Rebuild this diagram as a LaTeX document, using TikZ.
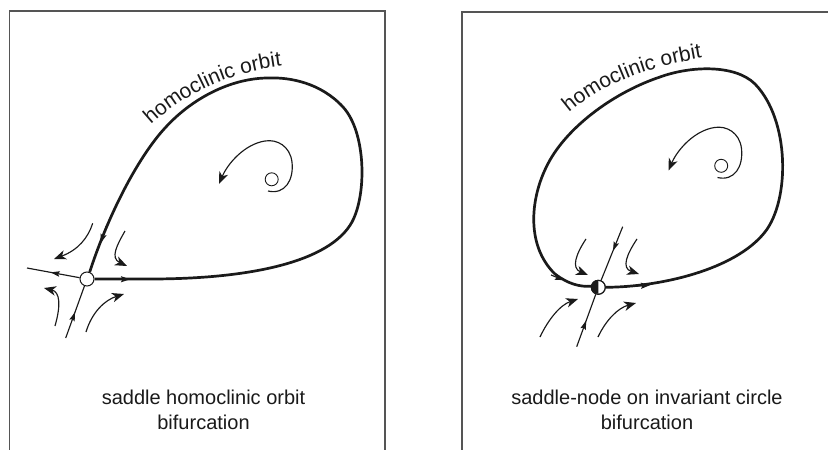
\documentclass[tikz,border=0pt]{standalone}
\usepackage{fontspec}
\setmainfont{Liberation Sans}
\usetikzlibrary{arrows.meta, decorations.markings, decorations.text}
\definecolor{ink}{HTML}{1A1A1A}
\definecolor{boxgray}{HTML}{555555}
\begin{document}
\begin{tikzpicture}[x=1pt, y=-1pt,
  panel/.style={draw=boxgray, line width=1.5pt},
  orbit/.style={draw=ink, line width=2.7pt, line join=round},
  orbtip/.style={draw=ink, line width=1.2pt, -{Stealth[length=9pt,width=6pt,inset=1.5pt]}},
  traj/.style={draw=ink, line width=1.15pt},
  bigtip/.style={-{Stealth[length=12pt,width=9.5pt,inset=3.5pt]}},
  midarrow/.style={postaction={decorate, decoration={markings,
      mark=at position #1 with {\arrow{Stealth[length=9pt,width=5.5pt,inset=1.5pt]}}}}},
  saddle/.style={circle, draw=ink, line width=1pt, fill=white, minimum size=14pt, inner sep=0pt},
  fixpt/.style={circle, draw=ink, line width=0.9pt, minimum size=13pt, inner sep=0pt},
  caption/.style={font=\fontsize{20}{24}\selectfont, inner sep=0pt, anchor=base, text=ink}]
\useasboundingbox (0,0) rectangle (828,450);
\fill[white] (0,0) rectangle (828,450);

% panels
\draw[panel] (9.5,452) -- (9.5,11) -- (385,11) -- (385,452);
\draw[panel] (462,452) -- (462,12) -- (830,12);

% ---------------- left panel ----------------
\node[saddle] (s1) at (87,279) {};
\node[fixpt] (f1) at (271.7,179.3) {};

\draw[orbit] (s1.east) -- (150,279)
  .. controls (250,279) and (330,262) .. (352,222)
  .. controls (367,194) and (366,132) .. (343,107)
  .. controls (321,83) and (290,77) .. (268,78)
  .. controls (235,78) and (195,95) .. (165,128)
  .. controls (140,155) and (110,210) .. (s1.69);
\coordinate (oa1) at (112,279.2);
\coordinate (ob1) at (130,279.3);
\coordinate (oc1) at (106.2,226);
\coordinate (od1) at (100.8,243);
\draw[orbtip] (oa1) -- (ob1);
\draw[orbtip] (oc1) -- (od1);

\coordinate (u1) at (27,268);
\coordinate (b1) at (65.7,338);
\draw[traj, midarrow=0.55] (s1.170) -- (u1);
\draw[traj, midarrow=0.5] (b1) -- (s1.250);

\draw[traj, bigtip] (92.7,223.3) .. controls (88,238) and (78,250) .. (54,259);
\draw[traj, bigtip] (125,231) .. controls (117,245) and (110,258) .. (127,266);
\draw[traj, bigtip] (55,326) .. controls (61,305) and (60,292) .. (44,288);
\draw[traj, bigtip] (86,332) .. controls (92,312) and (105,300) .. (124,294);

\draw[traj, bigtip] (268,191) .. controls (285,195) and (294,180) .. (292,162)
  .. controls (290,146) and (277,139) .. (265,141)
  .. controls (245,144) and (228,163) .. (219,184);

\path[decorate, decoration={text along path,
  text={|\fontsize{21}{21}\selectfont\color{ink}|homoclinic orbit}}]
  (151,125) .. controls (184,95) and (230,68) .. (305,64);

\node[caption] (c1a) at (203.5,404) {saddle homoclinic orbit};
\node[caption] (c1b) at (203.5,429) {bifurcation};

% ---------------- right panel ----------------
\node[saddle] (s2) at (598.3,287.3) {};
\fill[ink] (s2.north) arc[start angle=90, end angle=270, radius=7pt] -- cycle;
\node[circle, draw=ink, line width=1pt, minimum size=14pt, inner sep=0pt] (s2b) at (s2) {};
\node[fixpt] (f2) at (721.2,165.8) {};

\draw[orbit] (s2.east)
  .. controls (660,287) and (735,270) .. (765,232)
  .. controls (790,200) and (790,120) .. (755,84)
  .. controls (735,64) and (690,66) .. (660,77)
  .. controls (615,92) and (570,125) .. (550,160)
  .. controls (530,195) and (525,245) .. (555,274)
  .. controls (568,284) and (580,287) .. (s2.172);
\coordinate (oa2) at (630,286.4);
\coordinate (ob2) at (650,285.2);
\coordinate (oc2) at (551,275);
\coordinate (od2) at (564,280.2);
\draw[orbtip] (oa2) -- (ob2);
\draw[orbtip] (oc2) -- (od2);

\coordinate (t2) at (622.7,226.7);
\coordinate (b2) at (576.7,346.7);
\draw[traj, midarrow=0.45] (t2) -- (s2.68);
\draw[traj, midarrow=0.5] (b2) -- (s2.250);

\draw[traj, bigtip] (586,239) .. controls (576,254) and (571,268) .. (588,275);
\draw[traj, bigtip] (637,239) .. controls (627,254) and (621,268) .. (639,274);
\draw[traj, bigtip] (540,337) .. controls (548,320) and (560,305) .. (578,299);
\draw[traj, bigtip] (598,337) .. controls (606,320) and (618,308) .. (636,303);

\begin{scope}[shift={(449.5,-13.5)}]
\draw[traj, bigtip] (268,191) .. controls (285,195) and (294,180) .. (292,162)
  .. controls (290,146) and (277,139) .. (265,141)
  .. controls (245,144) and (228,163) .. (219,184);
\end{scope}

\path[decorate, decoration={text along path,
  text={|\fontsize{21}{21}\selectfont\color{ink}|homoclinic orbit}}]
  (569,113) .. controls (600,87) and (640,66) .. (722,55);

\node[caption] (c2a) at (647,404) {saddle-node on invariant circle};
\node[caption] (c2b) at (647,429) {bifurcation};
\end{tikzpicture}
\end{document}
